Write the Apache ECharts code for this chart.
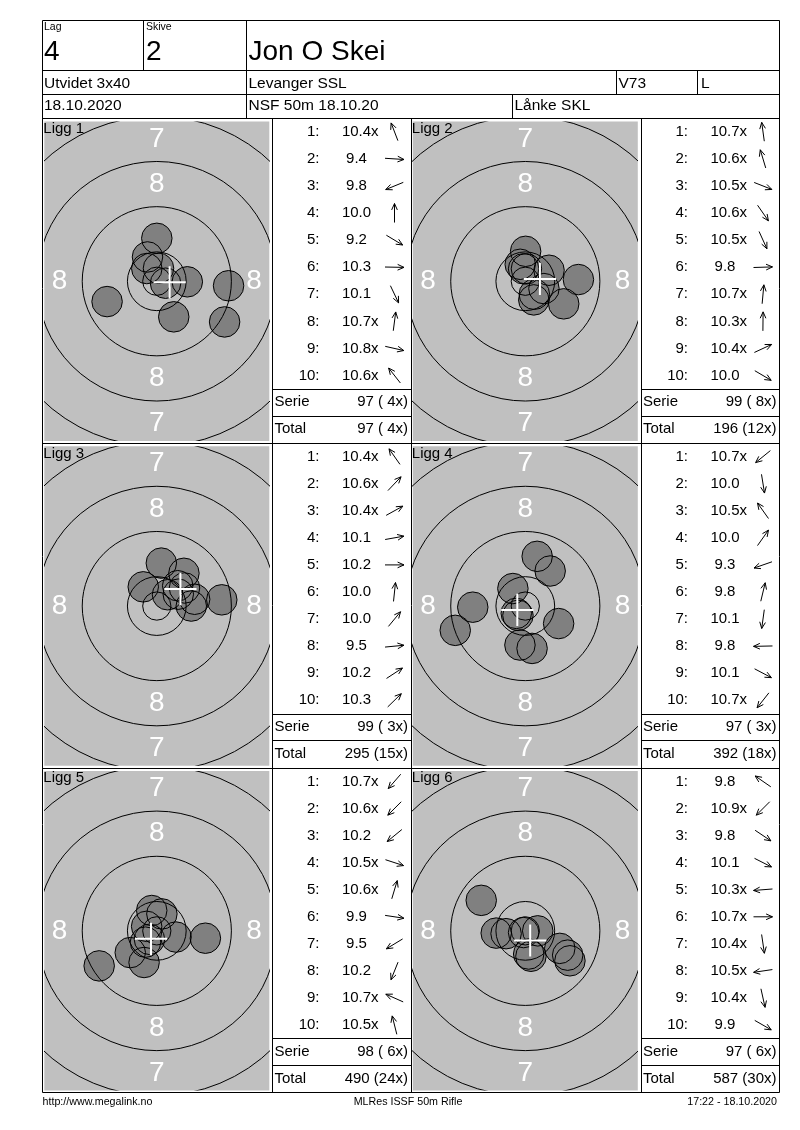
<!DOCTYPE html>
<html>
<head>
<meta charset="utf-8">
<title>Jon O Skei - Utvidet 3x40</title>
<script src="https://cdn.jsdelivr.net/npm/echarts@6.0.0/dist/echarts.min.js"></script>
<style>
  html, body { margin: 0; padding: 0; background: #fff; }
  #card { width: 800px; height: 1130px; }
</style>
</head>
<body>
<div id="card"></div>
<script>
const FONT = "'Liberation Sans', Arial, sans-serif";

// header fields
const lag = '4';
const skive = '2';
const shooter = 'Jon O Skei';
const klasse = 'Utvidet 3x40';
const klubb = 'Levanger SSL';
const vapen = 'V73';
const stilling = 'L';
const dato = '18.10.2020';
const stevne = 'NSF 50m 18.10.20';
const arrangor = 'Lånke SKL';
const footer = ['http://www.megalink.no', 'MLRes ISSF 50m Rifle', '17:22 - 18.10.2020'];

// series names
const liggNames = ['Ligg 1', 'Ligg 2', 'Ligg 3', 'Ligg 4', 'Ligg 5', 'Ligg 6'];

// scores as printed, shot positions in mm from centre (x right, y up)
const ligg1Scores = ['10.4x', '9.4', '9.8', '10.0', '9.2', '10.3', '10.1', '10.7x', '10.8x', '10.6x'];
const ligg1X = [-1.65, 12.7, -8.8, 0.0, 12.0, 5.4, 3.0, 0.3, 1.55, -1.77];
const ligg1Y = [4.3, -0.8, -3.6, 7.6, -7.2, -0.1, -6.3, 2.3, -0.35, 2.25];

const ligg2Scores = ['10.7x', '10.6x', '10.5x', '10.6x', '10.5x', '9.8', '10.7x', '10.3x', '10.4x', '10.0'];
const ligg2X = [-0.3, -0.9, 3.3, 1.6, 1.5, 9.4, 0.2, 0.06, 4.2, 6.8];
const ligg2Y = [2.2, 3.0, -1.3, -2.3, -3.3, 0.3, 2.2, 5.3, 1.95, -4.0];

const ligg3Scores = ['10.4x', '10.6x', '10.4x', '10.1', '10.2', '10.0', '10.0', '9.5', '10.2', '10.3'];
const ligg3X = [-2.4, 1.9, 3.8, 6.7, 6.1, 0.8, 4.8, 11.5, 4.9, 3.7];
const ligg3Y = [3.4, 2.0, 2.1, 1.2, 0.0, 7.6, 5.8, 1.1, 3.2, 3.6];

const ligg4Scores = ['10.7x', '10.0', '10.5x', '10.0', '9.3', '9.8', '10.1', '9.8', '10.1', '10.7x'];
const ligg4X = [-1.6, 1.2, -2.2, 4.4, -12.4, 2.1, -0.95, -9.3, 5.9, -1.3];
const ligg4Y = [-1.3, -7.5, 3.1, 6.2, -4.3, 8.8, -6.9, -0.2, -3.1, -1.65];

const ligg5Scores = ['10.7x', '10.6x', '10.2', '10.5x', '10.6x', '9.9', '9.5', '10.2', '10.7x', '10.5x'];
const ligg5X = [-1.3, -2.0, -4.7, 3.4, 0.9, 8.6, -10.2, -2.25, -1.8, -0.9];
const ligg5Y = [-1.5, -2.0, -3.85, -1.1, 3.0, -1.3, -6.2, -5.6, 0.8, 3.6];

const ligg6Scores = ['9.8', '10.9x', '9.8', '10.1', '10.3x', '10.7x', '10.4x', '10.5x', '10.4x', '9.9'];
const ligg6X = [-7.8, -0.3, 7.9, 6.1, -5.15, 2.2, 0.6, -3.4, 1.0, 7.5];
const ligg6Y = [5.4, -0.3, -5.3, -3.1, -0.4, 0.0, -4.1, -0.5, -4.5, -4.3];

// 50m rifle target, ring radii in mm (inner ten first)
const ringRadii = [2.5, 5.2, 13.2, 21.2, 29.2, 37.2];
const ringLabelText = ['7', '8', '8', '8', '8', '7'];
const ringLabelX = [0, 0, -17.2, 17.2, 0, 0];
const ringLabelY = [25.2, 17.2, 0, 0, -17.2, -25.2];

const ligger = [
  [ligg1Scores, ligg1X, ligg1Y],
  [ligg2Scores, ligg2X, ligg2Y],
  [ligg3Scores, ligg3X, ligg3Y],
  [ligg4Scores, ligg4X, ligg4Y],
  [ligg5Scores, ligg5X, ligg5Y],
  [ligg6Scores, ligg6X, ligg6Y]
];

// layout
const PX_PER_MM = 5.65;
const SHOT_R = 2.7;
const colLeft = [44.3, 412.8];
const tableLeft = [272.5, 641];
const rowTop = [118, 442.8, 767.6];
const TARGET_W = 225, TARGET_H = 319.5, TARGET_DY = 3.5;
const ROW_H = 324.8;

const measureCtx = document.createElement('canvas').getContext('2d');
const textWidth = (str, size) => {
  measureCtx.font = size + 'px ' + FONT;
  return measureCtx.measureText(str).width;
};

const px = (v) => Math.round(v) + 0.5;

const graphics = [];
const line = (x1, y1, x2, y2) => graphics.push({
  type: 'line', z: 100, silent: true,
  shape: { x1: x1, y1: y1, x2: x2, y2: y2 },
  style: { stroke: '#000', lineWidth: 1 }
});
const text = (str, x, y, size, align) => graphics.push({
  type: 'text', z: 100, silent: true, x: x, y: y,
  style: {
    text: str, font: size + 'px ' + FONT, fill: '#000',
    align: align || 'left', textAlign: align || 'left',
    verticalAlign: 'middle', textVerticalAlign: 'middle'
  }
});
const arrow = (cx, cy, dx, dy) => {
  const len = Math.hypot(dx, dy) || 1;
  const ux = dx / len, uy = -dy / len;
  const h = 9.5;
  const tip = [cx + ux * h, cy + uy * h];
  line(cx - ux * h, cy - uy * h, tip[0], tip[1]);
  const base = Math.atan2(uy, ux) + Math.PI;
  const wing = (s) => [tip[0] + Math.cos(base + s * 0.42) * 7, tip[1] + Math.sin(base + s * 0.42) * 7];
  graphics.push({
    type: 'polyline', z: 100, silent: true,
    shape: { points: [wing(1), tip, wing(-1)] },
    style: { stroke: '#000', lineWidth: 1, fill: 'none' }
  });
};

// header table
const L0 = 42.5, R0 = 779.5;
[20.5, 70.5, 94.5, 118.5].forEach(y => line(L0, y, R0, y));
line(143.5, 20.5, 143.5, 70.5);
line(246.5, 20.5, 246.5, 118.5);
line(616.5, 70.5, 616.5, 94.5);
line(697.5, 70.5, 697.5, 94.5);
line(512.5, 94.5, 512.5, 118.5);
text('Lag', 44, 27.5, 10.5);
text('Skive', 146, 27.5, 10.5);
text(lag, 44, 52.5, 28);
text(skive, 146, 52.5, 28);
text(shooter, 248.5, 52.5, 28);
text(klasse, 44, 83.5, 15.5);
text(klubb, 248.5, 83.5, 15.5);
text(vapen, 618.5, 83.5, 15.5);
text(stilling, 701, 83.5, 15.5);
text(dato, 44, 106, 15.5);
text(stevne, 248.5, 106, 15.5);
text(arrangor, 514.5, 106, 15.5);

// panel frame
const bottom = px(rowTop[0] + 3 * ROW_H);
line(L0, 20.5, L0, bottom);
line(R0, 20.5, R0, bottom);
[272.5, 411.5, 641.5].forEach(x => line(x, 118.5, x, bottom));
for (let r = 1; r <= 3; r++) {
  const y = px(rowTop[0] + r * ROW_H);
  line(L0, y, R0, y);
}

text(footer[0], 42.5, 1102, 10.7);
text(footer[1], 408, 1102, 10.7, 'center');
text(footer[2], 777, 1102, 10.7, 'right');

const grids = [], xAxes = [], yAxes = [], series = [];
let total = 0, totalX = 0;

ligger.forEach(([scores, xs, ys], i) => {
  const row = Math.floor(i / 2), col = i % 2;
  const T = rowTop[row];
  const gl = colLeft[col], gt = T + TARGET_DY;
  const hw = TARGET_W / 2 / PX_PER_MM, hh = TARGET_H / 2 / PX_PER_MM;

  grids.push({
    left: gl, top: gt, width: TARGET_W, height: TARGET_H,
    show: true, backgroundColor: '#c0c0c0', borderWidth: 0,
    containLabel: false, outerBoundsMode: 'none'
  });
  xAxes.push({ type: 'value', gridIndex: i, min: -hw, max: hw, show: false });
  yAxes.push({ type: 'value', gridIndex: i, min: -hh, max: hh, show: false });

  const shots = xs.map((x, k) => [x, ys[k]]);
  const mpi = [
    xs.reduce((a, b) => a + b, 0) / xs.length,
    ys.reduce((a, b) => a + b, 0) / ys.length
  ];
  const axis = { xAxisIndex: i, yAxisIndex: i, clip: true, silent: true, animation: false };

  series.push(Object.assign({
    type: 'custom', name: liggNames[i] + ' treff', z: 2, data: shots,
    renderItem: (params, api) => {
      const c = api.coord([api.value(0), api.value(1)]);
      return { type: 'circle', shape: { cx: c[0], cy: c[1], r: api.size([SHOT_R, 0])[0] },
        style: { fill: '#808080', stroke: 'none' } };
    }
  }, axis));

  series.push(Object.assign({
    type: 'custom', name: liggNames[i] + ' ringer', z: 3,
    data: ringRadii.map(r => [0, 0, r]),
    renderItem: (params, api) => {
      const c = api.coord([api.value(0), api.value(1)]);
      return { type: 'circle', shape: { cx: c[0], cy: c[1], r: api.size([api.value(2), 0])[0] },
        style: { fill: 'none', stroke: '#000', lineWidth: 1 } };
    }
  }, axis));

  series.push(Object.assign({
    type: 'custom', name: liggNames[i] + ' tall', z: 3,
    data: ringLabelX.map((x, k) => [x, ringLabelY[k]]),
    renderItem: (params, api) => {
      const c = api.coord([api.value(0), api.value(1)]);
      return { type: 'text', x: c[0], y: c[1],
        style: { text: ringLabelText[params.dataIndex], fill: '#fff', font: '28px ' + FONT,
          align: 'center', textAlign: 'center', verticalAlign: 'middle', textVerticalAlign: 'middle' } };
    }
  }, axis));

  series.push(Object.assign({
    type: 'custom', name: liggNames[i] + ' kant', z: 4, data: shots,
    renderItem: (params, api) => {
      const c = api.coord([api.value(0), api.value(1)]);
      return { type: 'circle', shape: { cx: c[0], cy: c[1], r: api.size([SHOT_R, 0])[0] },
        style: { fill: 'none', stroke: '#000', lineWidth: 1 } };
    }
  }, axis));

  series.push(Object.assign({
    type: 'custom', name: liggNames[i] + ' snitt', z: 5, data: [mpi],
    renderItem: (params, api) => {
      const c = api.coord([api.value(0), api.value(1)]);
      const h = api.size([2.85, 0])[0];
      const st = { stroke: '#fff', lineWidth: 2 };
      return { type: 'group', children: [
        { type: 'line', shape: { x1: c[0] - h, y1: c[1], x2: c[0] + h, y2: c[1] }, style: st },
        { type: 'line', shape: { x1: c[0], y1: c[1] - h, x2: c[0], y2: c[1] + h }, style: st }
      ] };
    }
  }, axis));

  text(liggNames[i], gl - 1, T + 10.7, 15);

  // score table
  const L = tableLeft[col];
  let serie = 0, serieX = 0;
  scores.forEach((s, k) => {
    const y = T + 13.8 + k * 27.08;
    const isX = s.endsWith('x');
    const num = isX ? s.slice(0, -1) : s;
    serie += Math.floor(parseFloat(num));
    if (isX) serieX++;
    text((k + 1) + ':', L + 47, y, 15, 'right');
    text(num, L + 84, y, 15, 'center');
    if (isX) text('x', L + 84 + textWidth(num, 15) / 2, y, 15);
    arrow(L + 122, y, xs[k], ys[k]);
  });
  total += serie;
  totalX += serieX;
  const fmt = (v, n) => v + ' (' + (n < 10 ? ' ' + n : n) + 'x)';
  const tr = L + 138.5;
  line(L, px(T + 270.7), tr, px(T + 270.7));
  line(L, px(T + 297.5), tr, px(T + 297.5));
  text('Serie', L + 2, T + 284.2, 15);
  text(fmt(serie, serieX), L + 135.5, T + 284.2, 15, 'right');
  text('Total', L + 2, T + 310.8, 15);
  text(fmt(total, totalX), L + 135.5, T + 310.8, 15, 'right');
});

const chart = echarts.init(document.getElementById('card'), null, { renderer: 'canvas' });
chart.setOption({
  backgroundColor: '#fff',
  animation: false,
  grid: grids,
  xAxis: xAxes,
  yAxis: yAxes,
  series: series,
  graphic: { elements: graphics }
});
</script>
</body>
</html>
